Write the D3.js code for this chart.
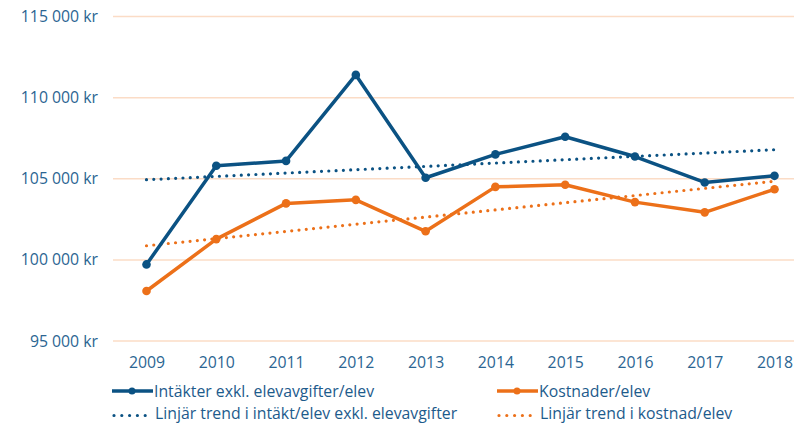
<!DOCTYPE html>
<html>
<head>
<meta charset="utf-8">
<script src="https://cdn.jsdelivr.net/npm/d3@7"></script>
<style>
  body { margin: 0; background: #fff; }
  text { font-family: "Open Sans", sans-serif; }
</style>
</head>
<body>
<div id="chart"></div>
<script>
// data
const years = [2009, 2010, 2011, 2012, 2013, 2014, 2015, 2016, 2017, 2018];
const intakter = [99720, 105800, 106100, 111400, 105060, 106500, 107590, 106370, 104770, 105180];
const kostnader = [98080, 101280, 103480, 103700, 101760, 104500, 104630, 103560, 102930, 104350];
// trend lines: value at first and last year
const trendIntakt = [104940, 106790];
const trendKostnad = [100870, 104850];
const yTicks = [95000, 100000, 105000, 110000, 115000];

const BLUE = '#0b5283';
const ORANGE = '#ec7019';
const TEXT = '#2b6592';
const FS = 15.8;

const width = 794, height = 423;
const margin = {top: 16.5, right: 0, bottom: 82, left: 113};

const svg = d3.select('#chart').append('svg')
  .attr('width', width)
  .attr('height', height);

const x = d3.scalePoint()
  .domain(years)
  .range([146.5, 774.5]);

const y = d3.scaleLinear()
  .domain([95000, 115000])
  .range([341, 16.5]);

const fmt = d => d3.format(',')(d).replace(',', ' ') + ' kr';

// grid
svg.append('g')
  .selectAll('line')
  .data(yTicks)
  .join('line')
  .attr('x1', margin.left)
  .attr('x2', width)
  .attr('y1', d => y(d))
  .attr('y2', d => y(d))
  .attr('stroke', '#fbdcc6')
  .attr('stroke-width', 1.5);

// y axis labels
const yAxis = d3.axisLeft(y).tickValues(yTicks).tickFormat(fmt).tickSize(0).tickPadding(0);
svg.append('g')
  .attr('transform', 'translate(98,0)')
  .call(yAxis)
  .call(g => g.select('.domain').remove())
  .call(g => g.selectAll('text')
    .attr('fill', TEXT)
    .attr('font-size', FS)
    .attr('font-family', '"Open Sans", sans-serif'));

// x axis labels
const xAxis = d3.axisBottom(x).tickSize(0).tickPadding(0);
svg.append('g')
  .attr('transform', 'translate(0,357)')
  .call(xAxis)
  .call(g => g.select('.domain').remove())
  .call(g => g.selectAll('text')
    .attr('fill', TEXT)
    .attr('font-size', FS)
    .attr('font-family', '"Open Sans", sans-serif'));

// trend lines
function drawTrend(vals, color) {
  svg.append('line')
    .attr('x1', x(years[0]))
    .attr('x2', x(years[years.length - 1]))
    .attr('y1', y(vals[0]))
    .attr('y2', y(vals[1]))
    .attr('stroke', color)
    .attr('stroke-width', 3.2)
    .attr('stroke-linecap', 'round')
    .attr('stroke-dasharray', '0 7.3');
}
drawTrend(trendKostnad, ORANGE);
drawTrend(trendIntakt, BLUE);

const line = d3.line()
  .x((d, i) => x(years[i]))
  .y(d => y(d));

function drawSeries(vals, color) {
  svg.append('path')
    .datum(vals)
    .attr('d', line)
    .attr('fill', 'none')
    .attr('stroke', color)
    .attr('stroke-width', 3.5)
    .attr('stroke-linejoin', 'round');
  svg.append('g')
    .selectAll('circle')
    .data(vals)
    .join('circle')
    .attr('cx', (d, i) => x(years[i]))
    .attr('cy', d => y(d))
    .attr('r', 4.3)
    .attr('fill', color);
}
drawSeries(kostnader, ORANGE);
drawSeries(intakter, BLUE);

// legend
const legend = [
  {label: 'Intäkter exkl. elevavgifter/elev', color: BLUE, dotted: false, x: 112, y: 391},
  {label: 'Kostnader/elev', color: ORANGE, dotted: false, x: 497, y: 391},
  {label: 'Linjär trend i intäkt/elev exkl. elevavgifter', color: BLUE, dotted: true, x: 112, y: 415.5},
  {label: 'Linjär trend i kostnad/elev', color: ORANGE, dotted: true, x: 497, y: 415.5}
];

const lg = svg.append('g').selectAll('g')
  .data(legend)
  .join('g')
  .attr('transform', d => `translate(${d.x},${d.y})`);

lg.filter(d => !d.dotted).append('line')
  .attr('x1', 0).attr('x2', 41)
  .attr('stroke', d => d.color)
  .attr('stroke-width', 3.5);
lg.filter(d => !d.dotted).append('circle')
  .attr('cx', 20).attr('r', 3.5)
  .attr('fill', d => d.color);
lg.filter(d => d.dotted).append('line')
  .attr('x1', 2).attr('x2', 34)
  .attr('stroke', d => d.color)
  .attr('stroke-width', 3.2)
  .attr('stroke-linecap', 'round')
  .attr('stroke-dasharray', '0 7.8');
lg.append('text')
  .attr('x', d => d.dotted ? 43 : 42)
  .attr('y', d => d.dotted ? 3.5 : 5.5)
  .attr('fill', '#1d5b8c')
  .attr('font-size', FS)
  .text(d => d.label);
</script>
</body>
</html>
